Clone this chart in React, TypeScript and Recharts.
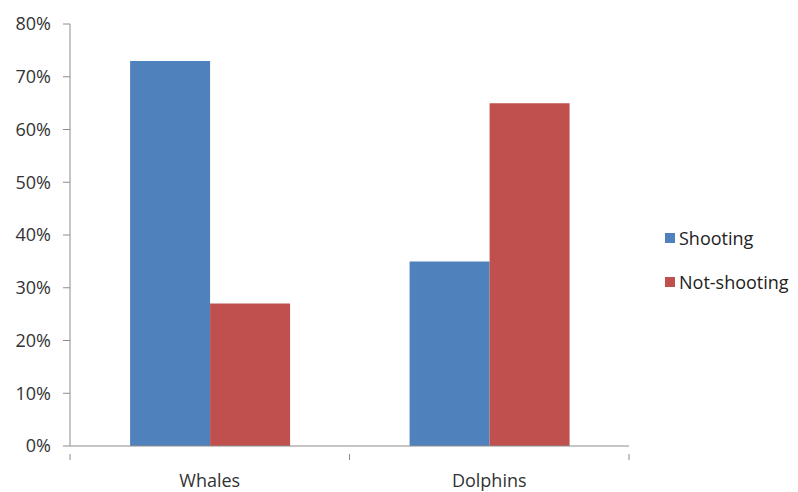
import { BarChart, Bar, XAxis, YAxis } from "recharts";

const CATEGORIES = ["Whales", "Dolphins"];
const SHOOTING = [73, 35];
const NOT_SHOOTING = [27, 65];
const Y_TICKS = [0, 10, 20, 30, 40, 50, 60, 70, 80];

const SERIES = [
  { key: "shooting", name: "Shooting", color: "#4F81BD" },
  { key: "notShooting", name: "Not-shooting", color: "#C0504D" },
];

const AXIS = "#8c8c8c";
const FONT = "'Open Sans', 'DejaVu Sans', sans-serif";

const data = CATEGORIES.map((c, i) => ({
  name: c,
  shooting: SHOOTING[i],
  notShooting: NOT_SHOOTING[i],
}));

// excel-style x tick: label in the middle, tick marks at band edges
const XTick = (props: any) => {
  const { x, y, payload, index } = props;
  const half = payload && payload.offset ? payload.offset : 140;
  return (
    <g>
      {index === 0 && (
        <line x1={x - half} x2={x - half} y1={y} y2={y + 6} stroke={AXIS} />
      )}
      <line x1={x + half} x2={x + half} y1={y} y2={y + 6} stroke={AXIS} />
      <text x={x} y={y + 33} textAnchor="middle" fill="#333" fontSize={18} fontFamily={FONT}>
        {payload.value}
      </text>
    </g>
  );
};

export default function App() {
  return (
    <div style={{ position: "absolute", left: 0, top: 0, width: 798, height: 492, background: "#fff" }}>
      <BarChart
        width={798}
        height={492}
        data={data}
        margin={{ top: 24, right: 169, bottom: 0, left: 0 }}
        barCategoryGap="21.5%"
        barGap={0}
      >
        <XAxis
          dataKey="name"
          height={46}
          axisLine={{ stroke: AXIS }}
          tickLine={false}
          tick={<XTick />}
          interval={0}
        />
        <YAxis
          width={70}
          domain={[0, 80]}
          ticks={Y_TICKS}
          interval={0}
          tickFormatter={(v: number) => `${v}%`}
          axisLine={{ stroke: AXIS }}
          tickLine={{ stroke: AXIS }}
          tickSize={7}
          tickMargin={12}
          tick={{ fill: "#333", fontSize: 18, fontFamily: FONT }}
        />
        {SERIES.map((s) => (
          <Bar key={s.key} dataKey={s.key} name={s.name} fill={s.color} isAnimationActive={false} />
        ))}
      </BarChart>
      <div style={{ position: "absolute", left: 665, top: 216, fontFamily: FONT, fontSize: 18, color: "#222" }}>
        {SERIES.map((s) => (
          <div key={s.key} style={{ display: "flex", alignItems: "center", height: 44 }}>
            <span style={{ width: 10, height: 10, background: s.color, marginRight: 4, display: "inline-block" }} />
            <span>{s.name}</span>
          </div>
        ))}
      </div>
    </div>
  );
}
